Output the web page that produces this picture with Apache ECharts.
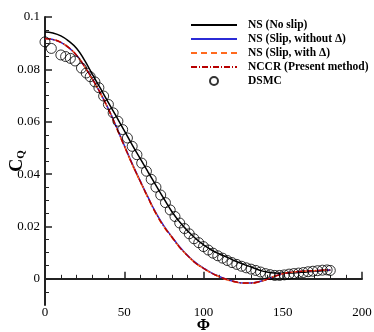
<!DOCTYPE html>
<html>
<head>
<meta charset="utf-8">
<script src="https://cdn.jsdelivr.net/npm/echarts@6/dist/echarts.min.js"></script>
<style>
  html, body { margin: 0; padding: 0; background: #fff; }
  #chart { width: 374px; height: 332px; }
</style>
</head>
<body>
<div id="chart"></div>
<script>
// 角度 Φ
const phi = [0, 5, 10, 15, 20, 25, 30, 35, 40, 45, 50, 55, 60, 65, 70, 75, 80, 85, 90,
  95, 100, 105, 110, 115, 120, 125, 130, 135, 140, 145, 150, 155, 160, 165, 170, 175, 180];

// NS (No slip)
const nsNoSlip = [0.0943, 0.0939, 0.0928, 0.0908, 0.0880, 0.0834, 0.0780, 0.0727, 0.0673, 0.0620,
  0.0566, 0.0512, 0.0460, 0.0408, 0.0357, 0.0306, 0.0257, 0.0217, 0.0183, 0.0154, 0.0130,
  0.0110, 0.0095, 0.0082, 0.0068, 0.0056, 0.0045, 0.0034, 0.0026, 0.0022, 0.0021, 0.0022,
  0.0024, 0.0026, 0.0029, 0.0031, 0.0033];

// NS (Slip, without Δ)
const nsSlipNoDelta = [0.0918, 0.0914, 0.0903, 0.0883, 0.0853, 0.0811, 0.0763, 0.0709, 0.0649, 0.0581,
  0.0510, 0.0440, 0.0375, 0.0312, 0.0252, 0.0202, 0.0161, 0.0122, 0.0089, 0.0062, 0.0041,
  0.0023, 0.0009, -0.0003, -0.0011, -0.0016, -0.0016, -0.0011, -0.0002, 0.0010, 0.0019, 0.0025,
  0.0028, 0.0030, 0.0031, 0.0033, 0.0034];

// NS (Slip, with Δ)
const nsSlipDelta = [0.0918, 0.0914, 0.0903, 0.0883, 0.0853, 0.0810, 0.0761, 0.0707, 0.0647, 0.0578,
  0.0507, 0.0437, 0.0372, 0.0309, 0.0249, 0.0199, 0.0159, 0.0120, 0.0088, 0.0060, 0.0040,
  0.0022, 0.0008, -0.0004, -0.0012, -0.0017, -0.0017, -0.0012, -0.0002, 0.0010, 0.0019, 0.0025,
  0.0028, 0.0030, 0.0031, 0.0033, 0.0034];

// NCCR (Present method)
const nccr = [0.0918, 0.0914, 0.0903, 0.0883, 0.0853, 0.0810, 0.0762, 0.0708, 0.0648, 0.0579,
  0.0508, 0.0438, 0.0373, 0.0310, 0.0250, 0.0200, 0.0160, 0.0120, 0.0088, 0.0060, 0.0040,
  0.0022, 0.0008, -0.0003, -0.0011, -0.0016, -0.0016, -0.0011, -0.0002, 0.0010, 0.0019, 0.0025,
  0.0028, 0.0030, 0.0031, 0.0033, 0.0034];

// DSMC
const dsmcPhi = [0, 4, 10, 13, 16, 19, 23, 26, 28.5, 31.5, 34, 37, 40, 43, 46, 49, 52, 55, 58, 61,
  64, 67, 70, 73, 76, 79, 82, 85, 88, 91, 94, 97, 100, 103, 106, 109, 112, 115, 118, 121,
  124, 127, 130, 133, 136, 139, 142, 145, 148, 151, 154, 157, 160, 163, 166, 169, 172, 175, 178, 180];
const dsmcCq = [0.0905, 0.0880, 0.0855, 0.0849, 0.0842, 0.0832, 0.0805, 0.0786, 0.0772, 0.0752,
  0.0730, 0.0698, 0.0666, 0.0634, 0.0602, 0.0570, 0.0538, 0.0506, 0.0474, 0.0442,
  0.0411, 0.0380, 0.0350, 0.0320, 0.0291, 0.0263, 0.0238, 0.0213, 0.0192, 0.0172,
  0.0153, 0.0138, 0.0123, 0.0110, 0.0098, 0.0088, 0.0079, 0.0070, 0.0062, 0.0055,
  0.0048, 0.0042, 0.0037, 0.0032, 0.0026, 0.0020, 0.0016, 0.0013, 0.0013, 0.0015,
  0.0018, 0.0020, 0.0022, 0.0024, 0.0027, 0.0029, 0.0031, 0.0033, 0.0034, 0.0032];

// 刻度
const xTicks = [0, 50, 100, 150, 200];
const yLabels = [0, 0.02, 0.04, 0.06, 0.08, 0.1];
const yMinor = [-0.005, 0.005, 0.01, 0.015, 0.025, 0.03, 0.035, 0.045, 0.05, 0.055,
  0.065, 0.07, 0.075, 0.085, 0.09, 0.095];

const pairs = (xs, ys) => xs.map((x, i) => [x, ys[i]]);

const serif = 'Liberation Serif';
const chart = echarts.init(document.getElementById('chart'));

const lineSeries = (name, ys, color, type) => ({
  name,
  type: 'line',
  data: pairs(phi, ys),
  smooth: true,
  symbol: 'none',
  lineStyle: { color, width: 1.5, type },
  itemStyle: { color },
  z: 2,
});

// 图例里线条不画圆点
const lineLegend = (name) => ({ name, itemStyle: { opacity: 0 } });

chart.setOption({
  animation: false,
  backgroundColor: '#fff',
  grid: { left: 45, right: 12, top: 17, bottom: 27, containLabel: false, outerBoundsMode: 'none' },
  legend: {
    orient: 'vertical',
    left: 185,
    top: 14,
    itemWidth: 46,
    itemHeight: 8,
    itemGap: 2,
    textStyle: { fontFamily: serif, fontWeight: 'bold', fontSize: 11.5, color: '#000', padding: [0, 0, 0, 6] },
    data: [
      lineLegend('NS (No slip)'),
      lineLegend('NS (Slip, without Δ)'),
      lineLegend('NS (Slip, with Δ)'),
      lineLegend('NCCR (Present method)'),
      'DSMC',
    ],
  },
  xAxis: {
    type: 'value',
    min: 0,
    max: 200,
    interval: 50,
    name: 'Φ',
    nameLocation: 'middle',
    nameGap: 13,
    nameMoveOverlap: false,
    nameTextStyle: { fontFamily: serif, fontWeight: 'bold', fontSize: 16, color: '#000' },
    axisLine: { lineStyle: { color: '#222', width: 2 } },
    axisTick: { inside: true, length: 7, lineStyle: { color: '#222', width: 1.5 } },
    minorTick: { show: true, splitNumber: 5, length: 4, lineStyle: { color: '#222', width: 1 } },
    axisLabel: { fontFamily: serif, fontSize: 13, color: '#000', margin: 1, customValues: xTicks },
    splitLine: { show: false },
  },
  yAxis: [
    {
      type: 'value',
      min: -0.01,
      max: 0.1,
      name: '{c|C}{q|Q}',
      nameLocation: 'middle',
      nameGap: 18,
      nameRotate: 90,
      nameMoveOverlap: false,
      nameTextStyle: {
        rich: {
          c: { fontFamily: serif, fontWeight: 'bold', fontSize: 18, color: '#000' },
          q: { fontFamily: serif, fontWeight: 'bold', fontSize: 11, color: '#000', verticalAlign: 'bottom', padding: [8, 0, 0, 0] },
        },
      },
      axisLine: { lineStyle: { color: '#222', width: 2 } },
      axisTick: { inside: true, length: 7, customValues: yLabels, lineStyle: { color: '#222', width: 1.5 } },
      axisLabel: {
        fontFamily: serif, fontSize: 13, color: '#000', margin: 5,
        customValues: yLabels,
        formatter: (v) => String(+v.toFixed(3)),
      },
      splitLine: { show: false },
    },
    {
      type: 'value',
      min: -0.01,
      max: 0.1,
      position: 'left',
      axisLine: { show: false },
      axisTick: { inside: true, length: 4, customValues: yMinor, lineStyle: { color: '#222', width: 1 } },
      axisLabel: { show: false, customValues: yMinor },
      splitLine: { show: false },
    },
  ],
  series: [
    lineSeries('NS (No slip)', nsNoSlip, '#000000', 'solid'),
    lineSeries('NS (Slip, without Δ)', nsSlipNoDelta, '#2b2bd6', 'solid'),
    lineSeries('NS (Slip, with Δ)', nsSlipDelta, '#ff6a1f', [6, 4]),
    lineSeries('NCCR (Present method)', nccr, '#b80000', [6, 2, 1, 2]),
    {
      name: 'DSMC',
      type: 'scatter',
      data: pairs(dsmcPhi, dsmcCq),
      symbol: 'circle',
      symbolSize: 10,
      itemStyle: { color: 'rgba(0,0,0,0)', borderColor: '#000', borderWidth: 1 },
      z: 3,
    },
  ],
});
</script>
</body>
</html>
